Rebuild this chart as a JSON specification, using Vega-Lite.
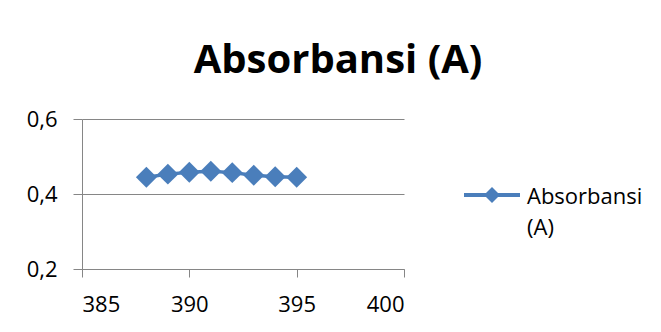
{
  "$schema": "https://vega.github.io/schema/vega-lite/v6.json",
  "autosize": {"type": "none"},
  "padding": {"left": 82, "top": 119, "right": 257, "bottom": 63},
  "width": 322,
  "height": 150,
  "background": "white",
  "title": {
    "text": "Absorbansi (A)",
    "font": "Open Sans",
    "fontSize": 40,
    "fontWeight": "bold",
    "color": "#000000",
    "anchor": "middle",
    "dx": 95,
    "offset": 27
  },
  "data": {
    "values": [
      {"x": 388, "y": 0.4445, "series": "Absorbansi (A)"},
      {"x": 389, "y": 0.453, "series": "Absorbansi (A)"},
      {"x": 390, "y": 0.458, "series": "Absorbansi (A)"},
      {"x": 391, "y": 0.4605, "series": "Absorbansi (A)"},
      {"x": 392, "y": 0.457, "series": "Absorbansi (A)"},
      {"x": 393, "y": 0.450, "series": "Absorbansi (A)"},
      {"x": 394, "y": 0.446, "series": "Absorbansi (A)"},
      {"x": 395, "y": 0.4445, "series": "Absorbansi (A)"}
    ]
  },
  "mark": {
    "type": "line",
    "strokeWidth": 3.5,
    "point": {"shape": "diamond", "size": 440, "filled": true, "opacity": 1}
  },
  "encoding": {
    "x": {
      "field": "x",
      "type": "quantitative",
      "scale": {"domain": [385, 400], "nice": false, "zero": false},
      "axis": {
        "values": [385, 390, 395, 400],
        "title": null,
        "grid": false,
        "domainColor": "#868686",
        "tickColor": "#868686",
        "tickSize": 8,
        "labelPadding": 17,
        "labelFont": "Open Sans",
        "labelFontSize": 22,
        "labelColor": "#000000"
      }
    },
    "y": {
      "field": "y",
      "type": "quantitative",
      "scale": {"domain": [0.2, 0.6], "nice": false, "zero": false},
      "axis": {
        "values": [0.2, 0.4, 0.6],
        "title": null,
        "grid": true,
        "gridColor": "#868686",
        "domainColor": "#868686",
        "tickColor": "#868686",
        "tickSize": 9,
        "labelPadding": 16,
        "labelFont": "Open Sans",
        "labelFontSize": 22,
        "labelColor": "#000000",
        "labelExpr": "replace(format(datum.value, '.1f'), '.', ',')"
      }
    },
    "color": {
      "field": "series",
      "type": "nominal",
      "scale": {"range": ["#4a7ebb"]},
      "legend": {
        "title": null,
        "orient": "none",
        "legendX": 399,
        "legendY": 65,
        "symbolType": "M-3.5,-0.25L3.5,-0.25L3.5,0.25L-3.5,0.25Z M0,-1L1,0L0,1L-1,0Z",
        "symbolSize": 256,
        "symbolFillColor": "#4a7ebb",
        "symbolStrokeWidth": 0,
        "labelOffset": 24,
        "labelFont": "Open Sans",
        "labelFontSize": 22,
        "labelColor": "#000000",
        "labelBaseline": "alphabetic",
        "labelLimit": 300,
        "labelExpr": "['Absorbansi', '(A)']",
        "encode": {
          "symbols": {"update": {"fill": {"value": "#4a7ebb"}, "strokeWidth": {"value": 0}}},
          "labels": {"update": {"dy": {"value": 9}, "lineHeight": {"value": 31}}}
        }
      }
    }
  },
  "config": {
    "view": {"stroke": null}
  }
}
